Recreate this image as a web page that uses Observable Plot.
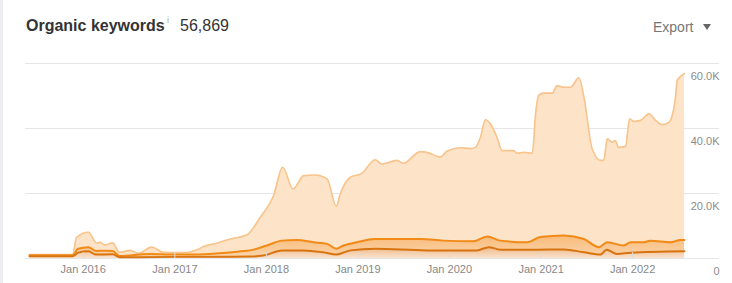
<!DOCTYPE html>
<html><head><meta charset="utf-8">
<script src="https://cdn.jsdelivr.net/npm/d3@7"></script>
<script src="https://cdn.jsdelivr.net/npm/@observablehq/plot@0.6"></script>
<style>
html,body{margin:0;padding:0;background:#fff;}
body{width:732px;height:283px;overflow:hidden;position:relative;font-family:"Liberation Sans",Arial,sans-serif;}
#edge{position:absolute;left:0;top:0;width:3px;height:283px;background:#eceef1;}
#head{position:relative;height:50px;}
#title{position:absolute;left:26px;top:17px;font-size:16px;font-weight:bold;color:#333;}
#info{position:absolute;left:167px;top:15px;font-size:9px;color:#aaa;}
#total{position:absolute;left:180px;top:17px;font-size:16px;color:#333;}
#export{position:absolute;left:653px;top:19px;font-size:14px;color:#777;}
#arrow{position:absolute;left:703px;top:24px;width:0;height:0;border-left:4px solid transparent;border-right:4px solid transparent;border-top:6px solid #666;}
#chart{position:absolute;left:0;top:50px;}
</style></head>
<body>
<div id="edge"></div>
<div id="head">
  <div id="title">Organic keywords</div>
  <div id="info">i</div>
  <div id="total">56,869</div>
  <div id="export">Export</div>
  <div id="arrow"></div>
</div>
<div id="chart"></div>
<script>
// All organic keywords
const allDates = ["2015-06-01","2015-11-20","2015-12-06","2016-01-22","2016-02-24","2016-03-08","2016-03-28","2016-04-28","2016-05-25","2016-07-07","2016-08-09","2016-10-01","2016-11-16","2016-12-27","2017-02-12","2017-03-30","2017-04-26","2017-06-18","2017-08-10","2017-10-16","2017-12-08","2018-01-30","2018-03-07","2018-04-17","2018-05-30","2018-07-15","2018-08-31","2018-10-07","2018-10-23","2018-12-02","2019-01-17","2019-03-11","2019-04-07","2019-06-06","2019-07-02","2019-09-07","2019-10-10","2019-11-26","2019-12-22","2020-02-14","2020-03-25","2020-04-14","2020-05-04","2020-05-24","2020-06-13","2020-07-09","2020-07-29","2020-09-14","2020-09-27","2020-10-24","2020-11-27","2020-12-10","2020-12-23","2021-01-12","2021-02-15","2021-03-06","2021-04-02","2021-04-28","2021-06-01","2021-06-21","2021-07-24","2021-08-26","2021-09-08","2021-09-22","2021-10-11","2021-10-24","2021-11-06","2021-12-04","2021-12-20","2022-01-05","2022-02-01","2022-03-07","2022-04-03","2022-04-30","2022-05-26","2022-06-21","2022-06-28","2022-07-11","2022-07-27"];
const allValues = [1200,1200,6500,8100,4700,5000,4200,4800,1900,2500,1600,3500,1900,1800,1800,2700,3700,4700,6000,7300,12700,19400,28100,21400,25500,25700,24500,16100,19900,25000,26200,30400,29100,30200,29300,32900,32500,31200,33000,34100,33800,34200,37300,42700,41400,37300,33200,33200,32400,32700,32400,44600,50200,50900,50900,53200,52700,52700,55600,49600,33700,30200,30200,36800,35800,36300,34200,34500,43000,42200,42500,44500,42500,41200,41900,49600,54800,56000,56869];

// Positions 1-10
const top10Dates = ["2015-06-01","2015-11-20","2015-12-12","2016-01-22","2016-02-21","2016-03-28","2016-04-28","2016-05-25","2016-09-24","2016-12-27","2017-03-03","2017-09-19","2017-10-28","2018-01-03","2018-03-04","2018-05-03","2018-07-08","2018-08-31","2018-10-07","2018-11-05","2018-12-28","2019-03-11","2019-09-07","2019-12-08","2020-04-06","2020-05-31","2020-07-23","2020-11-06","2020-12-29","2021-04-02","2021-06-21","2021-08-19","2021-09-22","2021-11-27","2021-12-24","2022-02-14","2022-03-13","2022-06-01","2022-07-11","2022-07-27"];
const top10Values = [1000,1000,3000,3500,2300,2400,2300,800,1400,1200,1200,2200,2500,4000,5500,5700,5000,4500,3000,4000,5000,6000,6000,5500,5300,6800,5500,5000,6600,7100,6000,3500,5000,4000,5000,5000,5500,5000,5700,5700];

// Positions 1-3
const top3Dates = ["2015-06-01","2015-11-20","2015-12-12","2016-01-22","2016-02-21","2016-04-28","2016-05-25","2016-12-27","2017-10-28","2017-12-20","2018-03-04","2018-05-28","2018-08-15","2018-10-07","2018-12-02","2019-03-11","2019-10-03","2020-04-20","2020-06-06","2020-07-23","2020-12-03","2021-04-02","2021-06-21","2021-08-26","2021-09-19","2021-10-31","2021-12-24","2022-07-27"];
const top3Values = [700,700,1800,2200,1200,1300,400,500,600,900,2500,2500,1900,1200,2500,3000,2500,2500,3500,2700,2700,2800,1900,1200,2700,1400,1800,2200];

const xTicks = ["2016-01-01","2017-01-01","2018-01-01","2019-01-01","2020-01-01","2021-01-01","2022-01-01"];
const yTicks = [0, 20000, 40000, 60000];

const parse = d3.utcParse("%Y-%m-%d");
const toRows = (dates, vals) => dates.map((d, i) => ({date: parse(d), value: vals[i]}));
const allRows = toRows(allDates, allValues);
const t10Rows = toRows(top10Dates, top10Values);
const t3Rows = toRows(top3Dates, top3Values);
const xTickDates = xTicks.map(parse);

const curve = "monotone-x";
const chart = Plot.plot({
  width: 732,
  height: 233,
  marginLeft: 29,
  marginRight: 48,
  marginTop: 13,
  marginBottom: 25,
  style: {fontFamily: "'Liberation Sans', Arial, sans-serif", fontSize: "11px", color: "#8c8c8c", background: "transparent"},
  x: {type: "utc", domain: [parse("2015-06-01"), parse("2022-07-27")], label: null},
  y: {domain: [0, 60000], label: null},
  marks: [
    Plot.ruleY(yTicks, {stroke: "#e6e6e6", strokeWidth: 1, insetLeft: -4, insetRight: -35}),
    Plot.areaY(allRows, {x: "date", y: "value", fill: "#fde3c7", curve}),
    Plot.lineY(allRows, {x: "date", y: "value", stroke: "#f8c48c", strokeWidth: 1.6, curve}),
    Plot.areaY(t10Rows, {x: "date", y: "value", fill: "url(#midGrad)", curve}),
    Plot.lineY(t10Rows, {x: "date", y: "value", stroke: "#f18a17", strokeWidth: 2, curve}),
    Plot.areaY(t3Rows, {x: "date", y: "value", fill: "url(#lowGrad)", curve}),
    Plot.lineY(t3Rows, {x: "date", y: "value", stroke: "#d8740f", strokeWidth: 2, curve}),
    Plot.axisX({ticks: xTickDates, tickFormat: d3.utcFormat("Jan %Y"), tickSize: -6, tickPadding: 13, stroke: "#dcdcdc", fill: "#888", label: null}),
    Plot.axisY({anchor: "right", ticks: yTicks, tickSize: 0, tickPadding: 35, textAnchor: "end", dy: 13, label: null,
      tickFormat: d => d === 0 ? "0" : (d / 1000).toFixed(1) + "K", fill: "#8c8c8c"})
  ]
});
const ns = "http://www.w3.org/2000/svg";
const defs = document.createElementNS(ns, "defs");
defs.innerHTML = `
<linearGradient id="midGrad" x1="0" y1="0" x2="0" y2="1">
  <stop offset="0" stop-color="#f8bb78"/><stop offset="1" stop-color="#fbd5ae"/>
</linearGradient>
<linearGradient id="lowGrad" x1="0" y1="0" x2="0" y2="1">
  <stop offset="0" stop-color="#efb684"/><stop offset="1" stop-color="#f9e3cf"/>
</linearGradient>`;
chart.insertBefore(defs, chart.firstChild);
document.getElementById("chart").appendChild(chart);
</script>
</body></html>
